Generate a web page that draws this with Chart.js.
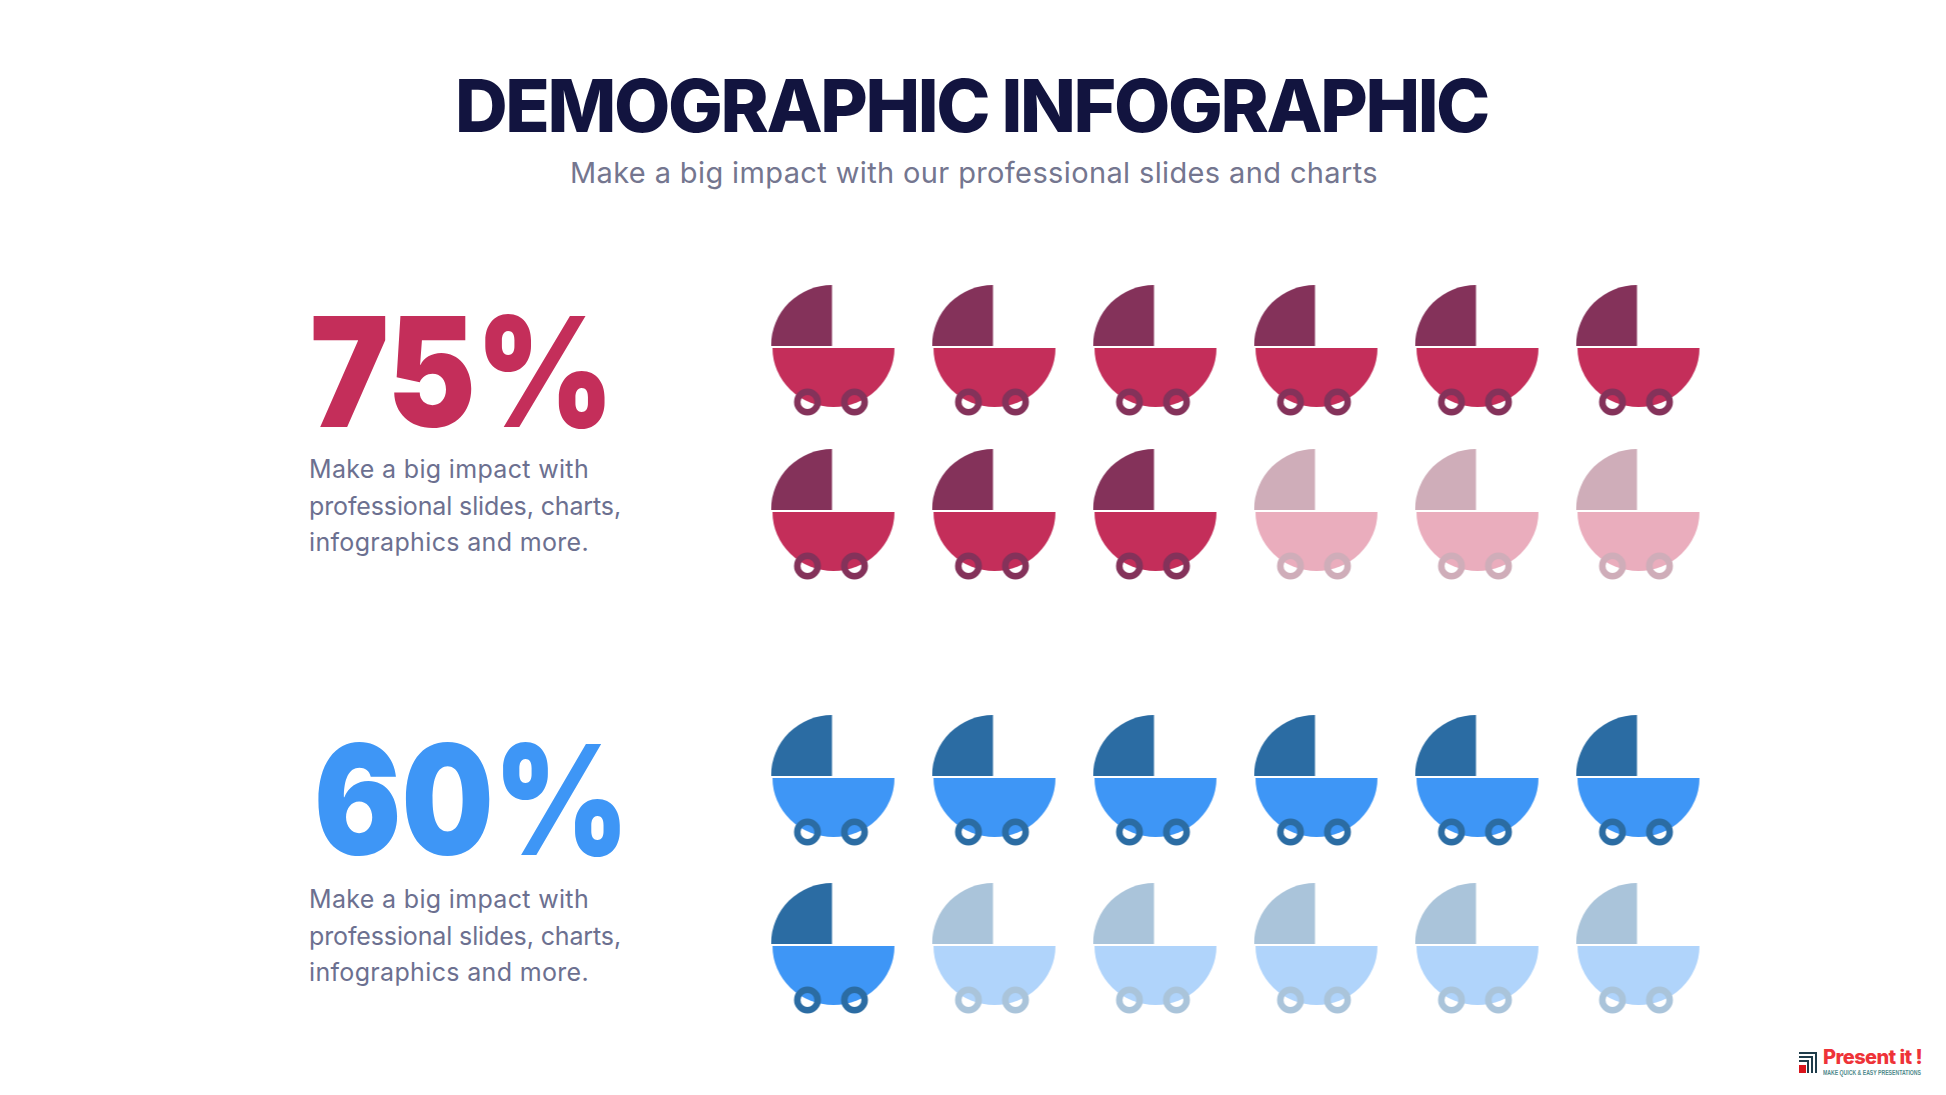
<!DOCTYPE html>
<html>
<head>
<meta charset="utf-8">
<title>Demographic Infographic</title>
<script src="https://cdn.jsdelivr.net/npm/chart.js@4"></script>
<style>
    html, body { margin: 0; padding: 0; background: #fff; }
    #page { position: relative; width: 1946px; height: 1095px; overflow: hidden; font-family: Inter, sans-serif; }
    #page > * { position: absolute; }
    .txt { white-space: nowrap; line-height: 1; }
    .scaled { transform-origin: left center; }
    #title { left: 455px; top: 69px; font-size: 73px; font-weight: 800; color: #12143f; }
    #subtitle { left: 570px; top: 158px; font-size: 29px; font-weight: 400; color: #74768f; }
    .big { font-size: 153px; font-weight: 900; }
    .body-line { font-size: 25px; font-weight: 400; color: #6c7090; }
    #brand { left: 1823px; top: 1047px; font-size: 20px; font-weight: 800; color: #ee3338; }
    #tag { left: 1823px; top: 1069px; font-family: "Liberation Sans Narrow", sans-serif; font-size: 7px; font-weight: 700; color: #4f8a8b; }
</style>
</head>
<body>
<div id="page">
    <div id="title" class="txt" data-w="1033">DEMOGRAPHIC INFOGRAPHIC</div>
    <div id="subtitle" class="txt" data-w="808">Make a big impact with our professional slides and charts</div>
    <canvas id="prams-0" width="966" height="328" style="left:753px;top:268px"></canvas>
    <canvas id="prams-1" width="966" height="336" style="left:753px;top:696px"></canvas>
    <svg id="logo" width="18" height="21" viewBox="0 0 18 21" style="left:1799px;top:1052px">
        <path d="M0 1H17V21M0 5H13V21M0 9H9V21" fill="none" stroke="#1f3c4a" stroke-width="2"/>
        <rect x="0" y="13" width="7" height="8" fill="#d9141b"/>
    </svg>
    <div id="brand" class="txt" data-w="99">Present it !</div>
    <div id="tag" class="txt scaled" data-w="98">MAKE QUICK &amp; EASY PRESENTATIONS</div>
</div>
<script>
// left side text
const shares = [75, 60];
const blurbLines = ['Make a big impact with', 'professional slides, charts,', 'infographics and more.'];

// pictogram grid: 12 prams per group, 6 on a row
const columns = [0, 1, 2, 3, 4, 5];
const rows = [0, 1];
const filledPrams = [9, 7];

const palettes = [
    { on: ['#84325a', '#c42e5a'], off: ['#cfadb9', '#eaadbd'], big: '#c42e5a' },
    { on: ['#2b6ca3', '#3e96f6'], off: ['#aac4da', '#b0d4fb'], big: '#3e96f6' },
];

const bigTops = [295, 723];
const bigLefts = [310, 314];
const bigWidths = [304, 315];
const blurbTops = [457, 887];
const blurbWidths = [280, 312, 280];

const page = document.getElementById('page');

function addText(text, cls, left, top, color, width) {
    const el = document.createElement('div');
    el.className = 'txt ' + cls;
    el.textContent = text;
    el.style.left = left + 'px';
    el.style.top = top + 'px';
    if (color) el.style.color = color;
    el.dataset.w = width;
    page.appendChild(el);
}

shares.forEach((share, i) => {
    addText(share + '%', 'big scaled', bigLefts[i], bigTops[i], palettes[i].big, bigWidths[i]);
    blurbLines.forEach((line, l) => {
        addText(line, 'body-line', 309, blurbTops[i] + l * 36.5, null, blurbWidths[l]);
    });
});

// fit each text to the width it has in the picture
document.querySelectorAll('.txt').forEach(el => {
    const w = el.getBoundingClientRect().width;
    const target = Number(el.dataset.w);
    if (el.classList.contains('scaled')) {
        el.style.transform = 'scaleX(' + (target / w) + ')';
    } else {
        el.style.letterSpacing = ((target - w) / el.textContent.length) + 'px';
    }
});

// one pram, used as the point style
function pramIcon(dark, main) {
    const c = document.createElement('canvas');
    c.width = 126;
    c.height = 134;
    const ctx = c.getContext('2d');
    ctx.translate(2, 2);
    ctx.fillStyle = dark;
    ctx.beginPath();
    ctx.moveTo(59.5, 61);
    ctx.lineTo(59.5, 0);
    ctx.arc(59.5, 61, 61, -Math.PI / 2, Math.PI, true);
    ctx.closePath();
    ctx.fill();
    ctx.fillStyle = main;
    ctx.beginPath();
    ctx.ellipse(61, 63, 61, 59, 0, 0, Math.PI);
    ctx.closePath();
    ctx.fill();
    ctx.strokeStyle = dark;
    ctx.lineWidth = 6.5;
    [35, 82].forEach(x => {
        ctx.beginPath();
        ctx.arc(x, 117, 10.2, 0, Math.PI * 2);
        ctx.stroke();
    });
    return c;
}

filledPrams.forEach((filled, g) => {
    const points = [];
    rows.forEach(r => columns.forEach(col => points.push({ x: col, y: r })));
    new Chart(document.getElementById('prams-' + g), {
        type: 'scatter',
        data: {
            datasets: [
                {
                    label: shares[g] + '%',
                    data: points.slice(0, filled),
                    pointStyle: pramIcon(palettes[g].on[0], palettes[g].on[1]),
                    pointRadius: 60,
                    clip: false,
                },
                {
                    label: 'rest',
                    data: points.slice(filled),
                    pointStyle: pramIcon(palettes[g].off[0], palettes[g].off[1]),
                    pointRadius: 60,
                    clip: false,
                },
            ],
        },
        options: {
            responsive: false,
            animation: false,
            layout: { padding: 0, autoPadding: false },
            plugins: { legend: { display: false }, tooltip: { enabled: false } },
            scales: {
                x: { type: 'linear', display: false, min: -0.5, max: 5.5 },
                y: { type: 'linear', display: false, min: -0.5, max: 1.5, reverse: true },
            },
        },
    });
});
</script>
</body>
</html>
